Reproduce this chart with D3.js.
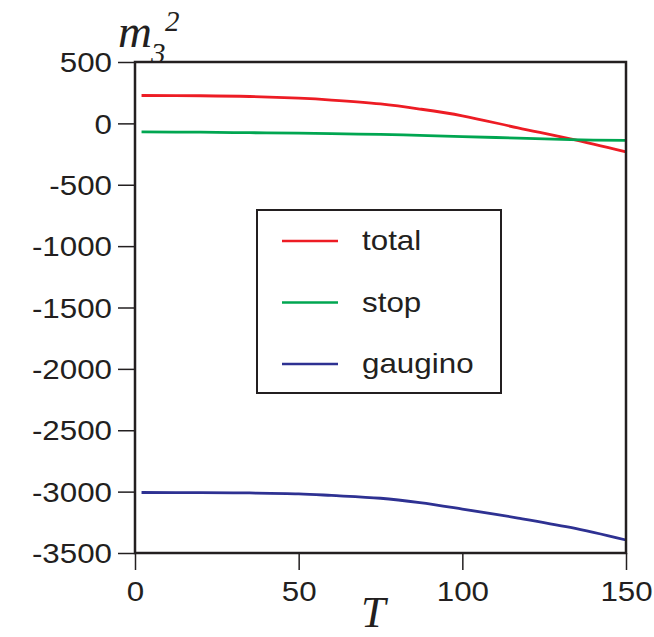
<!DOCTYPE html>
<html>
<head>
<meta charset="utf-8">
<script src="https://cdn.jsdelivr.net/npm/d3@7"></script>
<style>
  body { margin: 0; background: #fff; }
  svg text { fill: #231f20; }
</style>
</head>
<body>
<div id="container"></div>
<script>
/* CONSTANTS AND GLOBALS */
const width = 654;
const height = 637;
const margin = { top: 62, right: 28, bottom: 84, left: 135 };
const ink = "#231f20";
const stretch = 1.16; // tick labels look horizontally stretched

/* DATA */
const temps = [2, 20, 35, 50, 60, 75, 87, 100, 117, 133, 150];
const total = [227, 225, 219, 205, 190, 158, 117, 62, -37, -127, -233];
const stop = [-70, -72, -76, -80, -84, -90, -98, -108, -120, -133, -139];
const gaugino = [-3007, -3008, -3011, -3018, -3031, -3054, -3090, -3142, -3215, -3292, -3394];
const xTicks = [0, 50, 100, 150];
const yTicks = [500, 0, -500, -1000, -1500, -2000, -2500, -3000, -3500];

const series = [
  { name: "total", color: "#ed1c24", values: total },
  { name: "stop", color: "#00a651", values: stop },
  { name: "gaugino", color: "#2e3192", values: gaugino }
];

/* SCALES */
const xScale = d3.scaleLinear()
  .domain([0, 150])
  .range([margin.left, width - margin.right]);

const yScale = d3.scaleLinear()
  .domain([-3500, 500])
  .range([height - margin.bottom, margin.top]);

/* HTML ELEMENTS */
const svg = d3.select("#container")
  .append("svg")
  .attr("width", width)
  .attr("height", height)
  .style("font-family", "'Liberation Sans', Arial, sans-serif");

// y axis title (drawn first so the plot box covers the foot of the "3")
const ylab = svg.append("g").style("font-family", "'Liberation Serif', 'Times New Roman', serif")
  .style("font-style", "italic");
ylab.append("text").attr("x", 118).attr("y", 47).style("font-size", "47px").text("m");
ylab.append("text").attr("x", 151).attr("y", 63).style("font-size", "29px").text("3");
ylab.append("text").attr("x", 165).attr("y", 31).style("font-size", "29px").text("2");

// plot background
svg.append("rect")
  .attr("x", xScale(0))
  .attr("y", yScale(500))
  .attr("width", xScale(150) - xScale(0))
  .attr("height", yScale(-3500) - yScale(500))
  .attr("fill", "#fff");

// AXIS
const xAxis = d3.axisBottom(xScale).tickValues(xTicks).tickSize(17).tickSizeOuter(0)
  .tickFormat(d => String(d));
const yAxis = d3.axisLeft(yScale).tickValues(yTicks).tickSize(17).tickSizeOuter(0)
  .tickFormat(d => String(d));

const gx = svg.append("g")
  .attr("transform", `translate(0, ${height - margin.bottom})`)
  .call(xAxis);
gx.select(".domain").remove();
gx.selectAll(".tick line").attr("stroke", ink).attr("stroke-width", 1.5);
gx.selectAll(".tick text")
  .attr("y", 0).attr("dy", null)
  .attr("transform", `translate(0, 48) scale(${stretch}, 1)`)
  .style("font-size", "27px").attr("fill", ink);

const gy = svg.append("g")
  .attr("transform", `translate(${margin.left}, 0)`)
  .call(yAxis);
gy.select(".domain").remove();
gy.selectAll(".tick line").attr("stroke", ink).attr("stroke-width", 1.5);
gy.selectAll(".tick text")
  .attr("x", 0).attr("dy", "0.36em")
  .attr("transform", `translate(-23, 0) scale(${stretch}, 1)`)
  .style("font-size", "27px").attr("fill", ink);

// lines
const line = d3.line()
  .x((d, i) => xScale(temps[i]))
  .y(d => yScale(d))
  .curve(d3.curveCatmullRom.alpha(0.5));

svg.selectAll(".series")
  .data(series)
  .join("path")
  .attr("class", "series")
  .attr("d", d => line(d.values))
  .attr("fill", "none")
  .attr("stroke", d => d.color)
  .attr("stroke-width", 2.8);

// frame
svg.append("rect")
  .attr("x", xScale(0))
  .attr("y", yScale(500))
  .attr("width", xScale(150) - xScale(0))
  .attr("height", yScale(-3500) - yScale(500))
  .attr("fill", "none")
  .attr("stroke", ink)
  .attr("stroke-width", 2.5);

// legend
const legend = svg.append("g");
legend.append("rect")
  .attr("x", 257).attr("y", 210)
  .attr("width", 244).attr("height", 183)
  .attr("fill", "#fff")
  .attr("stroke", ink)
  .attr("stroke-width", 2);

const rows = legend.selectAll(".row")
  .data(series)
  .join("g")
  .attr("class", "row")
  .attr("transform", (d, i) => `translate(0, ${241 + i * 61.5})`);

rows.append("line")
  .attr("x1", 282).attr("x2", 338)
  .attr("stroke", d => d.color)
  .attr("stroke-width", 2.5);

rows.append("text")
  .attr("transform", `translate(362, 9) scale(1.12, 1)`)
  .style("font-size", "28px")
  .text(d => d.name);

// x axis title
svg.append("text")
  .attr("x", 361)
  .attr("y", 627)
  .style("font-family", "'Liberation Serif', 'Times New Roman', serif")
  .style("font-style", "italic")
  .style("font-size", "44px")
  .text("T");
</script>
</body>
</html>
